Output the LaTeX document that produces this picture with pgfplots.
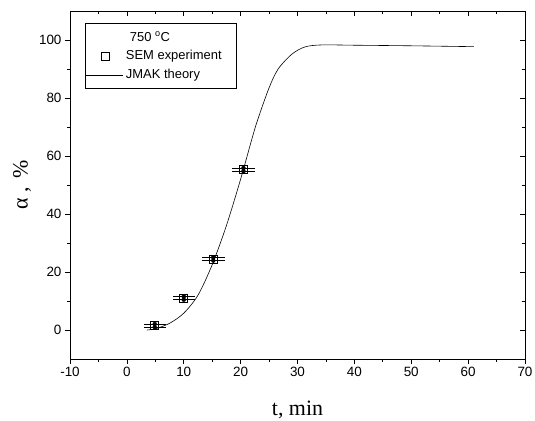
\documentclass[border=0pt]{standalone}
\usepackage{fontspec}
\setmainfont{Liberation Sans}
\newfontfamily\serif{Liberation Serif}
\usepackage{pgfplots}
\pgfplotsset{compat=1.18}
\pgfplotsset{
  sqimage/.style={legend image code/.code={%
    \path (-20bp,0bp) (17bp,0bp);\draw[##1] plot coordinates {(0bp,0bp)};}},
  longline/.style={legend image code/.code={%
    \draw[##1] (-20bp,0bp) -- (17bp,0bp);}},
}

\begin{document}
\begin{tikzpicture}
\useasboundingbox (-70bp,-62bp) rectangle (465bp,359bp);
% top and right: inward ticks, no labels
\begin{axis}[
    scale only axis, width=455bp, height=348bp,
    xmin=-10, xmax=70, ymin=-10, ymax=110,
    xtick={-10,0,...,70}, ytick={0,20,...,100},
    minor x tick num=1, minor y tick num=1,
    xtick pos=right, ytick pos=right, tick align=inside,
    major tick length=5bp, minor tick length=3bp,
    xticklabels={}, yticklabels={},
    axis line style={line width=0.8pt},
    every tick/.style={black, line width=0.7pt},
]
\end{axis}
\begin{axis}[
    scale only axis, width=455bp, height=348bp,
    xmin=-10, xmax=70, ymin=-10, ymax=110,
    xtick={-10,0,...,70}, ytick={0,20,...,100},
    minor x tick num=1, minor y tick num=1,
    xtick pos=left, ytick pos=left, tick align=outside,
    major tick length=5bp, minor tick length=3bp,
    axis line style={line width=0.8pt},
    every tick/.style={black, line width=0.7pt},
    /pgf/number format/assume math mode=true,
    tick label style={font=\fontsize{13.5}{16}\selectfont},
    xlabel={\serif t, min},
    ylabel={\serif α , \,\%},
    label style={font=\fontsize{22}{26}\selectfont},
    xlabel style={at={(axis description cs:0.5,0)}, anchor=base, yshift=-56bp},
    ylabel style={at={(axis description cs:-0.1055,0.5)}, anchor=center},
    legend style={at={(0.033,0.9655)}, anchor=north west, draw=black,
        line width=0.6pt, font=\fontsize{13}{15}\selectfont,
        nodes={inner sep=0pt}, row sep=8bp, column sep=3bp,
        inner xsep=0pt, inner ysep=8.5bp},
    legend cell align=left,
]
\addlegendimage{empty legend}
\addlegendentry{\hspace*{4bp}750 \textsuperscript{o}C}
\addplot[black, only marks, mark=square, mark size=4pt, line width=0.6pt, sqimage]
    coordinates {(4.9,1.5) (10.0,11) (15.2,24.5) (20.5,55.3)};
\addlegendentry{SEM experiment\hspace*{15bp}}
\addplot[black, line width=0.6pt, smooth, longline]
    coordinates {
    (3.5,0) (5,0.4) (7.5,2.3) (10,5.8) (12.5,12) (15,22.5) (17.5,36)
    (20,52) (22,66) (23,72.5) (25,83.5) (26.6,90) (29,95.1)
    (31.3,97.6) (34.2,98.3) (40,98.2) (50,98) (61,97.7)};
\addlegendentry{JMAK theory}
% doubled horizontal error bars
\addplot[black, only marks, mark=none, forget plot,
    error bars/.cd, x dir=both, x explicit, error mark=none,
    error bar style={line width=0.8pt}]
    coordinates {(4.9,2.05) +- (1.9,0) (10.0,11.55) +- (1.9,0)
                 (15.2,25.05) +- (2.0,0) (20.5,55.85) +- (2.0,0)};
\addplot[black, only marks, mark=none, forget plot,
    error bars/.cd, x dir=both, x explicit, error mark=none,
    error bar style={line width=0.8pt}]
    coordinates {(4.9,0.95) +- (1.9,0) (10.0,10.45) +- (1.9,0)
                 (15.2,23.95) +- (2.0,0) (20.5,54.75) +- (2.0,0)};
\end{axis}
\end{tikzpicture}
\end{document}
